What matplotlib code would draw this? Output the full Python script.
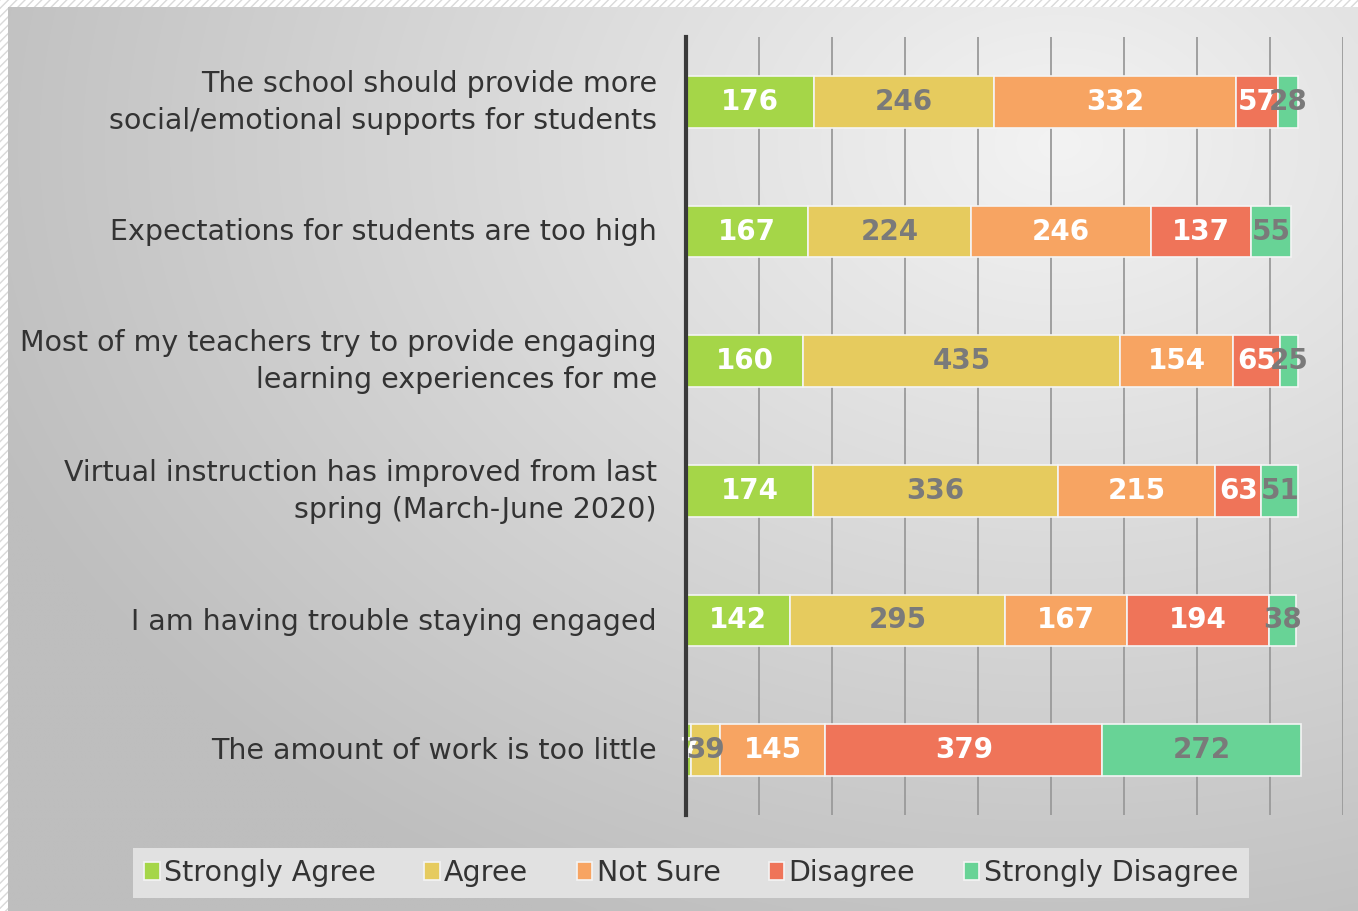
import numpy as np
import matplotlib
matplotlib.use("Agg")
import matplotlib.pyplot as plt
import matplotlib.transforms as mtransforms
from matplotlib.patches import Rectangle

categories = [
    "The school should provide more\nsocial/emotional supports for students",
    "Expectations for students are too high",
    "Most of my teachers try to provide engaging\nlearning experiences for me",
    "Virtual instruction has improved from last\nspring (March-June 2020)",
    "I am having trouble staying engaged",
    "The amount of work is too little",
]
series_names = ["Strongly Agree", "Agree", "Not Sure", "Disagree", "Strongly Disagree"]
strongly_agree = [176, 167, 160, 174, 142, 7]
agree = [246, 224, 435, 336, 295, 39]
not_sure = [332, 246, 154, 215, 167, 145]
disagree = [57, 137, 65, 63, 194, 379]
strongly_disagree = [28, 55, 25, 51, 38, 272]

colors = ["#a5d648", "#e6cb5e", "#f7a462", "#ef7459", "#68d396"]
label_colors = ["white", "#7a7a7a", "white", "white", "#7a7a7a"]

W, H = 1358, 911
fig = plt.figure(figsize=(W / 100, H / 100), dpi=100)
fig.patch.set_facecolor("white")

# hatched outer border
fig.patches.append(Rectangle((0, 0), 1, 1, transform=fig.transFigure, facecolor="white",
                             edgecolor="#d9d9d9", hatch="////", lw=0, zorder=-10))

# gradient background panel
bg = fig.add_axes([8 / W, 0, 1 - 8 / W, 1 - 7 / H], zorder=-5)
yy, xx = np.mgrid[0:1:200j, 0:1:300j]
r = np.sqrt(((xx - 0.78) * 1.0) ** 2 + ((yy - 0.15) * 0.9) ** 2)
g = np.clip(243 - 62 * r, 190, 243) / 255.0
bg.imshow(np.dstack([g, g, g]), aspect="auto", extent=[0, 1, 1, 0], interpolation="bilinear")
bg.set_axis_off()

ax = fig.add_axes([686 / W, 1 - 815 / H, 657 / W, 778 / H])
ax.set_facecolor("none")

data = [strongly_agree, agree, not_sure, disagree, strongly_disagree]
y = np.arange(len(categories))
left = np.zeros(len(categories))
for vals, name, col, lc in zip(data, series_names, colors, label_colors):
    vals = np.array(vals)
    ax.barh(y, vals, left=left, height=0.4, color=col, edgecolor="#f4f4f4",
            linewidth=1.2, label=name, zorder=3)
    for yi, (l, v) in enumerate(zip(left, vals)):
        ax.text(l + v / 2, yi, str(v), ha="center", va="center", color=lc,
                fontsize=20, fontweight="bold", zorder=4)
    left = left + vals

ax.set_xlim(0, 900)
ax.set_ylim(len(categories) - 0.5, -0.5)
ax.set_xticks(np.arange(0, 901, 100))
ax.set_xticklabels([])
ax.grid(axis="x", color="#9a9a9a", linewidth=1.3, zorder=0)
ax.set_yticks(y)
ax.set_yticklabels(categories, fontsize=20.5, color="#333333", linespacing=1.42)
ax.tick_params(axis="y", length=0, pad=21)
ax.tick_params(axis="x", length=0)
# nudge labels up a little to sit on the bar centres
for lab in ax.get_yticklabels():
    dy = 7 if "\n" in lab.get_text() else 2
    lab.set_transform(lab.get_transform() +
                      mtransforms.ScaledTranslation(0, dy / 100, fig.dpi_scale_trans))
for s in ["top", "right", "bottom"]:
    ax.spines[s].set_visible(False)
ax.spines["left"].set_color("#3a3a3a")
ax.spines["left"].set_linewidth(3)
ax.spines["left"].set_zorder(5)

leg = fig.legend(loc="center", bbox_to_anchor=(691 / W, 1 - 873 / H), ncol=5,
                 fontsize=20.5, frameon=True, fancybox=False, handlelength=0.55,
                 handleheight=0.55, handletextpad=0.15, columnspacing=1.7,
                 borderpad=0.4, borderaxespad=0)
leg.get_frame().set_facecolor("#e1e1e1")
leg.get_frame().set_edgecolor("none")
leg.get_frame().set_alpha(1)
for t in leg.get_texts():
    t.set_color("#333333")

fig.savefig("out.png", dpi=100)
